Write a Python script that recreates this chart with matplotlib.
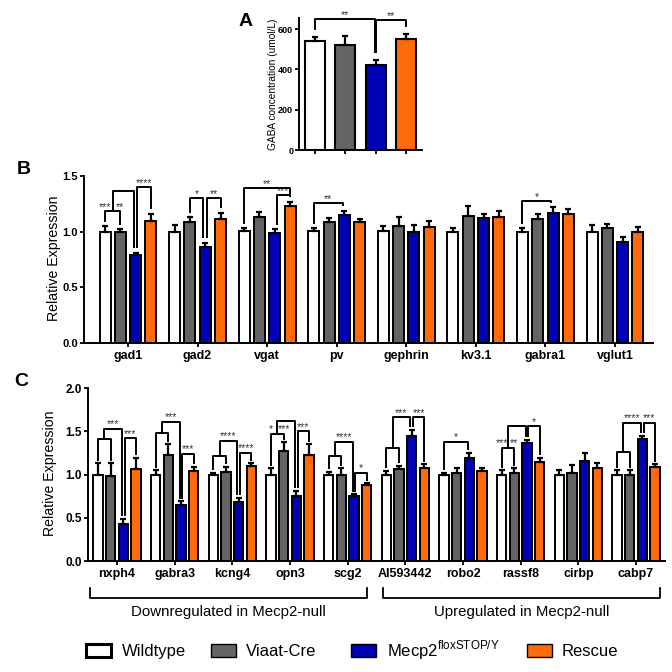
import matplotlib
matplotlib.use('Agg')
import matplotlib.pyplot as plt
from matplotlib.patches import Rectangle
from matplotlib.lines import Line2D
import numpy as np

plt.rcParams['font.family'] = ['Liberation Sans', 'DejaVu Sans']
plt.rcParams['mathtext.fontset'] = 'custom'
plt.rcParams['mathtext.rm'] = 'Liberation Sans'

# ---------------- data ----------------
series_names = ['Wildtype', 'Viaat-Cre', r'Mecp2$^{\mathrm{floxSTOP/Y}}$', 'Rescue']
series_colors = ['#ffffff', '#646464', '#0000b4', '#ff6a0a']

# Panel A: GABA concentration
a_means = [540, 520, 420, 550]
a_errs = [20, 48, 25, 25]

# Panel B
b_genes = ['gad1', 'gad2', 'vgat', 'pv', 'gephrin', 'kv3.1', 'gabra1', 'vglut1']
b_wt = [1.00, 1.00, 1.01, 1.01, 1.01, 1.00, 1.00, 1.00]
b_wt_err = [0.05, 0.06, 0.02, 0.02, 0.04, 0.03, 0.03, 0.06]
b_cre = [1.00, 1.09, 1.13, 1.09, 1.05, 1.14, 1.11, 1.03]
b_cre_err = [0.02, 0.04, 0.05, 0.03, 0.08, 0.09, 0.05, 0.04]
b_null = [0.79, 0.86, 0.99, 1.15, 1.00, 1.12, 1.17, 0.91]
b_null_err = [0.02, 0.04, 0.03, 0.04, 0.06, 0.04, 0.05, 0.04]
b_res = [1.10, 1.11, 1.23, 1.09, 1.04, 1.13, 1.16, 1.00]
b_res_err = [0.06, 0.06, 0.04, 0.02, 0.06, 0.06, 0.04, 0.04]

# Panel C
c_genes = ['nxph4', 'gabra3', 'kcng4', 'opn3', 'scg2',
           'AI593442', 'robo2', 'rassf8', 'cirbp', 'cabp7']
c_wt = [1.00, 1.00, 1.00, 1.00, 1.00, 1.00, 1.00, 1.00, 1.00, 1.00]
c_wt_err = [0.13, 0.05, 0.02, 0.07, 0.03, 0.04, 0.02, 0.05, 0.05, 0.05]
c_cre = [0.98, 1.23, 1.03, 1.27, 1.00, 1.06, 1.02, 1.02, 1.02, 1.00]
c_cre_err = [0.15, 0.12, 0.06, 0.10, 0.07, 0.04, 0.06, 0.05, 0.09, 0.05]
c_null = [0.43, 0.65, 0.68, 0.75, 0.75, 1.45, 1.19, 1.36, 1.16, 1.41]
c_null_err = [0.06, 0.04, 0.05, 0.06, 0.02, 0.07, 0.06, 0.04, 0.09, 0.04]
c_res = [1.06, 1.04, 1.10, 1.22, 0.88, 1.08, 1.04, 1.14, 1.08, 1.09]
c_res_err = [0.13, 0.05, 0.03, 0.13, 0.02, 0.04, 0.03, 0.05, 0.05, 0.03]

# significance annotations
# simple: ('s', group, bar_from, bar_to, height, label)
# combo:  ('c', group, low_height, high_height, label or (label0, label1))
a_sig = [('s', 0, 0, 2, 652, '**'), ('s', 0, 2, 3, 645, '**')]
b_sig = [('c', 0, 1.186, 1.366, ('***', '**')), ('s', 0, 2, 3, 1.404, '****'),
         ('s', 1, 1, 2, 1.30, '*'), ('s', 1, 2, 3, 1.30, '**'),
         ('s', 2, 0, 3, 1.395, '**'), ('s', 2, 2, 3, 1.33, '***'),
         ('s', 3, 0, 2, 1.26, '**'), ('s', 6, 0, 2, 1.276, '*')]
c_sig = [('c', 0, 1.41, 1.53, '***'), ('s', 0, 2, 3, 1.42, '***'),
         ('c', 1, 1.48, 1.61, '***'), ('s', 1, 2, 3, 1.24, '***'),
         ('c', 2, 1.21, 1.39, '****'), ('s', 2, 2, 3, 1.25, '****'),
         ('c', 3, 1.47, 1.62, ('*', '***')), ('s', 3, 2, 3, 1.50, '***'),
         ('c', 4, 1.21, 1.38, '****'), ('s', 4, 2, 3, 1.02, '*'),
         ('c', 5, 1.31, 1.66, '***'), ('s', 5, 2, 3, 1.66, '***'),
         ('s', 6, 0, 2, 1.38, '*'),
         ('c', 7, 1.31, 1.56, ('***', '**')), ('s', 7, 2, 3, 1.56, '*'),
         ('c', 9, 1.26, 1.60, '****'), ('s', 9, 2, 3, 1.60, '***')]

W = 672.0
fig = plt.figure(figsize=(6.72, 6.72), dpi=100)


def ax_px(x0, y0, x1, y1):
    return fig.add_axes([x0 / W, 1 - y1 / W, (x1 - x0) / W, (y1 - y0) / W])


def style(ax, fs_y, fs_x):
    for s in ['top', 'right']:
        ax.spines[s].set_visible(False)
    for s in ['left', 'bottom']:
        ax.spines[s].set_linewidth(1.4)
    ax.tick_params(axis='both', width=1.3, length=3, pad=1.2)
    ax.tick_params(axis='y', labelsize=fs_y)
    ax.tick_params(axis='x', labelsize=fs_x, pad=2)
    for lab in ax.get_xticklabels() + ax.get_yticklabels():
        lab.set_fontweight('bold')


def draw_bars(ax, xs, means, errs, color, width, lw=1.4):
    ax.bar(xs, means, width=width, color=color, edgecolor='black',
           linewidth=lw, zorder=2)
    ax.errorbar(xs, means, yerr=[np.zeros(len(errs)), errs], fmt='none',
                ecolor='black', elinewidth=1.6, capsize=2.5, capthick=1.6,
                zorder=3)


def draw_sig(ax, sigs, pos, tops, gap, toff, fs):
    kw = dict(color='black', lw=1.4, solid_capstyle='butt', clip_on=False,
              zorder=4)
    tkw = dict(ha='center', va='center', fontsize=fs, color='#333333',
               clip_on=False)
    for s in sigs:
        if s[0] == 's':
            _, g, b0, b1, h, lab = s
            x0 = pos(g, b0) + (0.025 if b0 == 2 else 0)
            x1 = pos(g, b1) - (0.025 if b1 == 2 else 0)
            y0 = tops[b0][g] + gap
            y1 = tops[b1][g] + gap
            ax.add_line(Line2D([x0, x0, x1, x1], [y0, h, h, y1], **kw))
            ax.text((x0 + x1) / 2, h + toff, lab, **tkw)
        else:
            _, g, lo, hi, lab = s
            xa, xb = pos(g, 0), pos(g, 1)
            xc = pos(g, 2) - 0.025
            ya = tops[0][g] + gap
            yb = tops[1][g] + gap
            yc = tops[2][g] + gap
            xm = (xa + xb) / 2
            ax.add_line(Line2D([xa, xa, xb, xb], [ya, lo, lo, yb], **kw))
            ax.add_line(Line2D([xm, xm, xc, xc], [lo, hi, hi, yc], **kw))
            if isinstance(lab, tuple):
                ax.text(xa, lo + toff, lab[0], **tkw)
                ax.text(xb, lo + toff, lab[1], **tkw)
            else:
                ax.text((xm + xc) / 2, hi + toff, lab, **tkw)


# ---------------- Panel A ----------------
axA = ax_px(299, 18, 422, 150)
xa = np.arange(4)
for i in range(4):
    draw_bars(axA, [xa[i]], [a_means[i]], [a_errs[i]], series_colors[i], 0.66,
              lw=1.5)
axA.set_xlim(-0.53, 3.53)
axA.set_ylim(0, 655)
axA.set_yticks([0, 200, 400, 600])
axA.set_xticks(xa)
axA.set_xticklabels([])
style(axA, 6.5, 6)
axA.tick_params(axis='both', length=3)
a_tops = [[a_means[i] + a_errs[i]] for i in range(4)]
draw_sig(axA, a_sig, lambda g, b: xa[b], a_tops, 35, 18, 7.5)
fig.text(273 / W, 1 - 84 / W, 'GABA concentration (umol/L)', rotation=90,
         ha='center', va='center', fontsize=7.3)

# ---------------- Panel B ----------------
axB = ax_px(84, 176, 653, 343)
d = 0.22
bw = 0.158
xb = np.arange(len(b_genes))
b_means = [b_wt, b_cre, b_null, b_res]
b_errs = [b_wt_err, b_cre_err, b_null_err, b_res_err]
for i in range(4):
    draw_bars(axB, xb + (i - 1.5) * d, b_means[i], b_errs[i],
              series_colors[i], bw)
axB.set_xlim(-0.632, 7.546)
axB.set_ylim(0, 1.5)
axB.set_yticks([0, 0.5, 1.0, 1.5])
axB.set_yticklabels(['0.0', '0.5', '1.0', '1.5'])
axB.set_xticks(xb)
axB.set_xticklabels(b_genes)
style(axB, 8, 9)
b_tops = [[m + e for m, e in zip(b_means[i], b_errs[i])] for i in range(4)]
draw_sig(axB, b_sig, lambda g, b: xb[g] + (b - 1.5) * d, b_tops, 0.04,
         0.035, 7.5)
fig.text(54 / W, 1 - 258 / W, 'Relative Expression', rotation=90,
         ha='center', va='center', fontsize=10.2)

# ---------------- Panel C ----------------
axC = ax_px(88, 388, 665, 561)
xc = np.arange(len(c_genes))
bwc = 0.165
c_means = [c_wt, c_cre, c_null, c_res]
c_errs = [c_wt_err, c_cre_err, c_null_err, c_res_err]
for i in range(4):
    draw_bars(axC, xc + (i - 1.5) * d, c_means[i], c_errs[i],
              series_colors[i], bwc)
axC.set_xlim(-0.503, 9.503)
axC.set_ylim(0, 2.0)
axC.set_yticks([0, 0.5, 1.0, 1.5, 2.0])
axC.set_yticklabels(['0.0', '0.5', '1.0', '1.5', '2.0'])
axC.set_xticks(xc)
axC.set_xticklabels(c_genes)
style(axC, 8.5, 9)
c_tops = [[m + e for m, e in zip(c_means[i], c_errs[i])] for i in range(4)]
draw_sig(axC, c_sig, lambda g, b: xc[g] + (b - 1.5) * d, c_tops, 0.03,
         0.05, 7.5)
fig.text(50 / W, 1 - 473 / W, 'Relative Expression', rotation=90,
         ha='center', va='center', fontsize=10.2)

# group brackets below panel C
trans = axC.get_xaxis_transform()
y_top, y_bot, y_txt = -0.156, -0.214, -0.295
for (xl, xr, lab) in [(-0.47, 4.33, 'Downregulated in Mecp2-null'),
                      (4.61, 9.41, 'Upregulated in Mecp2-null')]:
    axC.add_line(Line2D([xl, xl, xr, xr], [y_top, y_bot, y_bot, y_top],
                        transform=trans, color='black', lw=1.3,
                        clip_on=False))
    axC.text((xl + xr) / 2, y_txt, lab, transform=trans, ha='center',
             va='center', fontsize=10.8)

# panel letters
for (lx, ly, t) in [(246, 22, 'A'), (24, 170, 'B'), (21, 381, 'C')]:
    fig.text(lx / W, 1 - ly / W, t, ha='center', va='center',
             fontsize=14, fontweight='bold')

# legend
leg_patch_x = [86, 211, 351, 527]
leg_text_x = [122, 246, 387, 562]
for i in range(4):
    lw = 2.2 if i == 0 else 1.0
    fig.add_artist(Rectangle((leg_patch_x[i] / W, 1 - 657 / W), 25 / W,
                             13 / W, transform=fig.transFigure,
                             facecolor=series_colors[i], edgecolor='black',
                             linewidth=lw))
    fig.text(leg_text_x[i] / W, 1 - 656 / W, series_names[i], ha='left',
             va='baseline', fontsize=12)

fig.savefig('out.png', dpi=100, facecolor='white')
